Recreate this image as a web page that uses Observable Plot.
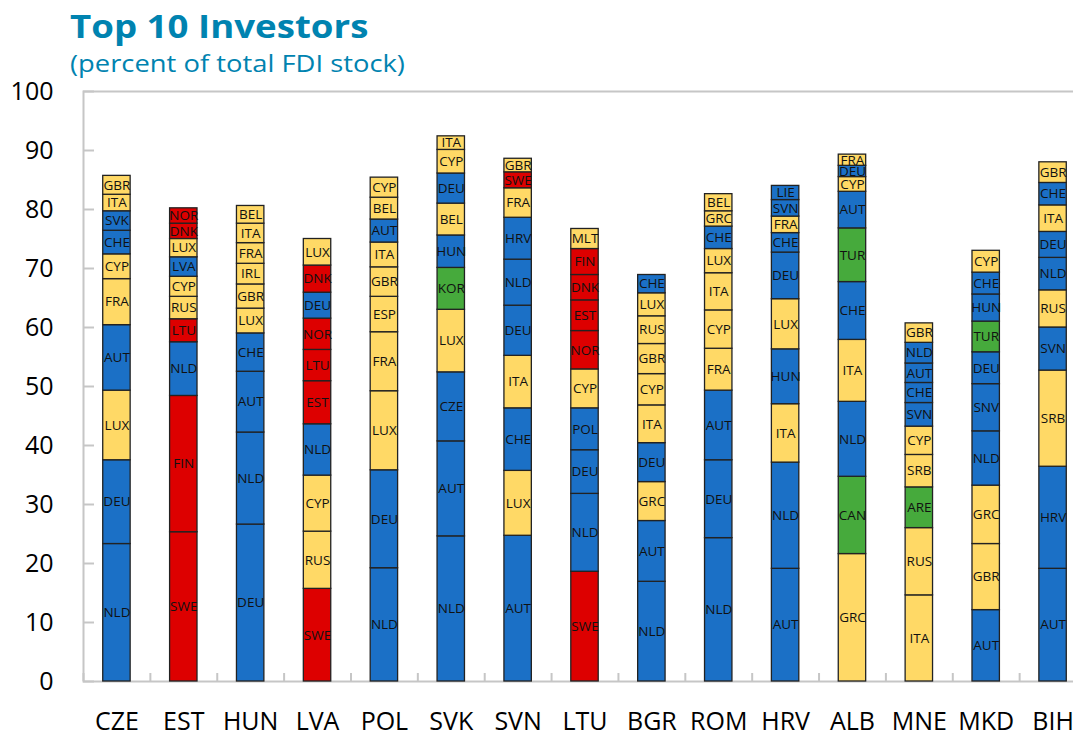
<!DOCTYPE html>
<html><head><meta charset="utf-8">
<script src="https://cdn.jsdelivr.net/npm/d3@7"></script>
<script src="https://cdn.jsdelivr.net/npm/@observablehq/plot@0.6"></script>
<style>
html,body{margin:0;padding:0;overflow:hidden;background:#fff;font-family:"Open Sans",sans-serif;}
#wrap{position:relative;width:1073px;height:736px;overflow:hidden}
#chart{position:absolute;left:0;top:0}
#chart svg{max-width:none !important;}
.title{position:absolute;left:70px;top:10px;font-size:32px;font-weight:700;color:#0083B0;line-height:1;white-space:nowrap;transform:scaleX(1.145);transform-origin:0 0}
.sub{position:absolute;left:70px;top:51px;font-size:24px;color:#0083B0;line-height:1;white-space:nowrap;transform:scaleX(1.14);transform-origin:0 0}
</style></head>
<body>
<div id="wrap"><div id="chart"></div><div class="title">Top 10 Investors</div><div class="sub">(percent of total FDI stock)</div></div>
<script>
const countries = ["CZE","EST","HUN","LVA","POL","SVK","SVN","LTU","BGR","ROM","HRV","ALB","MNE","MKD","BIH"];
const yTicks = [0,10,20,30,40,50,60,70,80,90,100];

// investor colour groups
const blueInvestors = ["NLD","DEU","AUT","CHE","SVK","LVA","HUN","CZE","POL","HRV","SVN","LIE","SNV"];
const yellowInvestors = ["LUX","FRA","CYP","ITA","GBR","BEL","IRL","ESP","RUS","GRC","MLT","SRB"];
const redInvestors = ["SWE","FIN","NOR","DNK","EST","LTU"];
const greenInvestors = ["KOR","TUR","CAN","ARE"];

// top 10 investors per country, bottom to top
const czeInvestors = ["NLD","DEU","LUX","AUT","FRA","CYP","CHE","SVK","ITA","GBR"];
const czeValues = [23.3,14.2,11.8,11.1,7.8,4.2,4.0,3.3,2.8,3.2];
const estInvestors = ["SWE","FIN","NLD","LTU","RUS","CYP","LVA","LUX","DNK","NOR"];
const estValues = [25.3,23.1,9.1,3.9,3.8,3.4,3.3,3.1,2.6,2.6];
const hunInvestors = ["DEU","NLD","AUT","CHE","LUX","GBR","IRL","FRA","ITA","BEL"];
const hunValues = [26.6,15.6,10.3,6.5,4.2,4.1,3.5,3.5,3.3,3.0];
const lvaInvestors = ["SWE","RUS","CYP","NLD","EST","LTU","NOR","DEU","DNK","LUX"];
const lvaValues = [15.7,9.7,9.5,8.7,7.3,5.3,5.3,4.4,4.6,4.5];
const polInvestors = ["NLD","DEU","LUX","FRA","ESP","GBR","ITA","AUT","BEL","CYP"];
const polValues = [19.2,16.6,13.4,10.0,6.0,5.0,4.2,3.9,3.7,3.4];
const svkInvestors = ["NLD","AUT","CZE","LUX","KOR","HUN","BEL","DEU","CYP","ITA"];
const svkValues = [24.6,16.1,11.7,10.6,7.1,5.5,5.4,5.1,4.0,2.3];
const svnInvestors = ["AUT","LUX","CHE","ITA","DEU","NLD","HRV","FRA","SWE","GBR"];
const svnValues = [24.7,11.0,10.6,8.9,8.5,7.8,7.1,5.0,2.7,2.3];
const ltuInvestors = ["SWE","NLD","DEU","POL","CYP","NOR","EST","DNK","FIN","MLT"];
const ltuValues = [18.6,13.2,7.4,7.1,6.6,6.5,5.2,4.3,4.4,3.4];
const bgrInvestors = ["NLD","AUT","GRC","DEU","ITA","CYP","GBR","RUS","LUX","CHE"];
const bgrValues = [16.9,10.3,6.6,6.6,6.4,5.3,5.1,4.7,3.9,3.1];
const romInvestors = ["NLD","DEU","AUT","FRA","CYP","ITA","LUX","CHE","GRC","BEL"];
const romValues = [24.3,13.2,11.8,7.1,6.5,6.3,4.1,3.8,2.6,2.9];
const hrvInvestors = ["AUT","NLD","ITA","HUN","LUX","DEU","CHE","FRA","SVN","LIE"];
const hrvValues = [19.1,18.0,9.9,9.3,8.5,7.9,3.3,2.8,2.8,2.4];
const albInvestors = ["GRC","CAN","NLD","ITA","CHE","TUR","AUT","CYP","DEU","FRA"];
const albValues = [21.6,13.1,12.7,10.5,9.8,9.1,6.2,2.5,1.9,1.9];
const mneInvestors = ["ITA","RUS","ARE","SRB","CYP","SVN","CHE","AUT","NLD","GBR"];
const mneValues = [14.6,11.4,6.9,5.5,4.8,4.0,3.4,3.3,3.5,3.3];
const mkdInvestors = ["AUT","GBR","GRC","NLD","SNV","DEU","TUR","HUN","CHE","CYP"];
const mkdValues = [12.1,11.2,9.9,9.2,8.0,5.4,5.2,4.6,3.7,3.7];
const bihInvestors = ["AUT","HRV","SRB","SVN","RUS","NLD","DEU","ITA","CHE","GBR"];
const bihValues = [19.1,17.3,16.3,7.3,6.3,5.5,4.4,4.5,3.8,3.5];

const investorLists = [czeInvestors,estInvestors,hunInvestors,lvaInvestors,polInvestors,svkInvestors,svnInvestors,ltuInvestors,bgrInvestors,romInvestors,hrvInvestors,albInvestors,mneInvestors,mkdInvestors,bihInvestors];
const valueLists = [czeValues,estValues,hunValues,lvaValues,polValues,svkValues,svnValues,ltuValues,bgrValues,romValues,hrvValues,albValues,mneValues,mkdValues,bihValues];

const BLUE = "#1B70C6", YELLOW = "#FFD966", RED = "#DD0000", GREEN = "#46AA3C";
function colorOf(inv) {
  if (redInvestors.includes(inv)) return RED;
  if (greenInvestors.includes(inv)) return GREEN;
  if (yellowInvestors.includes(inv)) return YELLOW;
  return BLUE;
}

const rows = [];
countries.forEach((c, i) => {
  investorLists[i].forEach((inv, j) => {
    rows.push({country: c, investor: inv, value: valueLists[i][j], color: colorOf(inv)});
  });
});

const grid = "#c6c6c6";
const chart = Plot.plot({
  width: 1086, height: 745,
  marginLeft: 83, marginRight: 0, marginTop: 91, marginBottom: 64,
  x: {domain: countries, paddingInner: 0.59, paddingOuter: 0.295, round: false, label: null},
  y: {domain: [0, 100], label: null},
  color: {type: "identity"},
  style: {fontFamily: "'Open Sans', sans-serif", background: "white", color: "#000"},
  marks: [
    Plot.frame({stroke: grid, strokeWidth: 2}),
    Plot.axisY(yTicks, {tickSize: 0, tickPadding: 30, fontSize: 25, fill: "#000", label: null}),
    Plot.axisY(yTicks, {tickSize: 11, dx: 11, text: null, stroke: grid, strokeWidth: 2, label: null}),
    Plot.axisX({tickSize: 0, tickPadding: 31, fontSize: 25, fill: "#000", label: null}),
    Plot.axisX({tickSize: 8, dy: -8, dx: -33.42, text: null, stroke: grid, strokeWidth: 2, label: null}),
    Plot.barY(rows, Plot.stackY({x: "country", y: "value", fill: "color", stroke: "#222", strokeWidth: 1.3})),
    Plot.text(rows, Plot.stackY({x: "country", y: "value", text: "investor", fontSize: 13.5, fill: "#111"}))
  ]
});
document.getElementById("chart").appendChild(chart);
</script>
</body></html>
